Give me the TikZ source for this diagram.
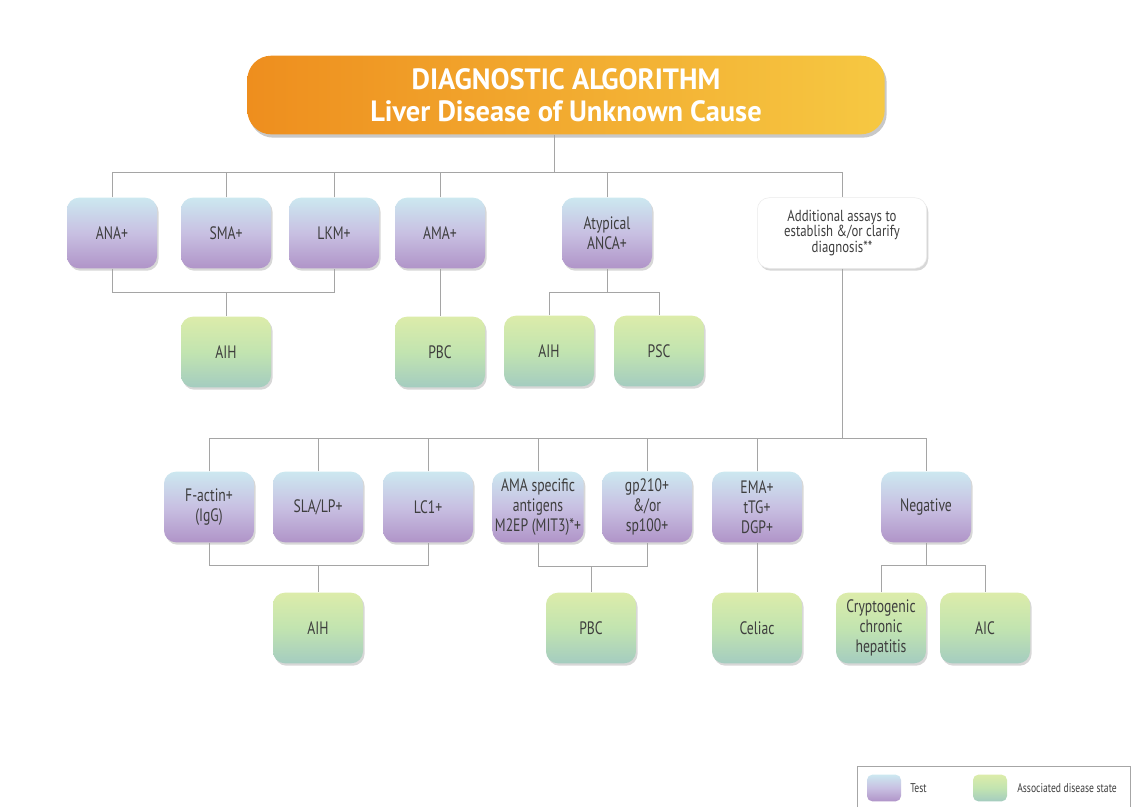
\documentclass[tikz,border=0pt]{standalone}
\usepackage{fontspec}
\setmainfont{PT Sans}[FakeStretch=0.76]
\newfontfamily\titlefont{PT Sans}[FakeStretch=0.97]
\newfontfamily\infofont{PT Sans}[FakeStretch=0.8]
\usetikzlibrary{shadows}
\definecolor{txt}{RGB}{62,62,62}
\definecolor{tTop}{RGB}{204,232,240}
\definecolor{tMid}{RGB}{200,192,226}
\definecolor{tBot}{RGB}{176,148,200}
\definecolor{dTop}{RGB}{220,236,170}
\definecolor{dMid}{RGB}{194,228,176}
\definecolor{dBot}{RGB}{164,204,192}
\definecolor{conn}{RGB}{165,165,165}
\definecolor{oLeft}{RGB}{238,142,30}
\definecolor{oRight}{RGB}{246,200,66}
\tikzset{
  softshadow/.style={drop shadow={shadow xshift=1.2pt,shadow yshift=-1.8pt,opacity=0.22,fill=black!70}},
  basebox/.style={rounded corners=9pt,minimum width=67.5pt,minimum height=53pt,inner sep=2pt,
    align=center,text=txt,font=\fontsize{13.5}{15}\selectfont,softshadow},
  testbox/.style={basebox,top color=tTop,bottom color=tBot,middle color=tMid},
  dzbox/.style={basebox,top color=dTop,bottom color=dBot,middle color=dMid},
  infobox/.style={basebox,fill=white,draw=black!8,minimum width=127pt,font=\infofont\fontsize{12}{11.5}\selectfont},
  titlebox/.style={rounded corners=18pt,minimum width=478pt,minimum height=59pt,align=center,
    text=white,font=\titlefont\bfseries\fontsize{22}{24}\selectfont,
    left color=oLeft,right color=oRight,drop shadow={shadow xshift=1.5pt,shadow yshift=-2.5pt,opacity=0.3,fill=black!70}},
  link/.style={draw=conn,line width=0.5pt},
  swatchT/.style={rounded corners=4pt,minimum width=25.5pt,minimum height=20pt,inner sep=0pt,top color=tTop,bottom color=tBot,middle color=tMid},
  swatchD/.style={rounded corners=4pt,minimum width=25.5pt,minimum height=20pt,inner sep=0pt,top color=dTop,bottom color=dBot,middle color=dMid},
  legtext/.style={anchor=west,inner sep=0pt,text=txt,font=\fontsize{9.5}{11}\selectfont}
}
\begin{document}
\begin{tikzpicture}[x=0.75pt,y=-0.75pt]
\useasboundingbox[fill=white] (0,0) rectangle (1134,807);
% title
\node[titlebox] (title) at (566,95) {DIAGNOSTIC ALGORITHM\\Liver Disease of Unknown Cause};
% row 1
\node[testbox] (ana)  at (112,233) {ANA+};
\node[testbox] (sma)  at (226,233) {SMA+};
\node[testbox] (lkm)  at (334,233) {LKM+};
\node[testbox] (ama)  at (440,233) {AMA+};
\node[testbox] (anca) at (607,233) {Atypical\\ANCA+};
\node[infobox] (addl) at (842,233) {Additional assays to\\establish \&/or clarify\\diagnosis**};
% row 2
\node[dzbox] (aiha) at (226,352) {AIH};
\node[dzbox] (pbca) at (440,352) {PBC};
\node[dzbox] (aihb) at (549,351) {AIH};
\node[dzbox] (psc)  at (659,351) {PSC};
% row 3
\node[testbox] (fact) at (209,507) {F-actin+\\(IgG)};
\node[testbox] (sla)  at (318,507) {SLA/LP+};
\node[testbox] (lc)   at (428,507) {LC1+};
\node[testbox] (amas) at (538,507) {AMA specific\\antigens\\M2EP (MIT3)*+};
\node[testbox] (gp)   at (647,507) {gp210+\\\&/or\\sp100+};
\node[testbox] (ema)  at (757,507) {EMA+\\tTG+\\DGP+};
\node[testbox] (neg)  at (926,507) {Negative};
% row 4
\node[dzbox] (aihc)   at (318,628) {AIH};
\node[dzbox] (pbcb)   at (591,628) {PBC};
\node[dzbox] (celiac) at (757,628) {Celiac};
\node[dzbox] (crypto) at (881,628) {Cryptogenic\\chronic\\hepatitis};
\node[dzbox] (aic)    at (985,628) {AIC};
% bus levels
\coordinate (busA) at (554,172);
\coordinate (busB) at (0,292);
\coordinate (busC) at (0,292);
\coordinate (busD) at (842,438);
\coordinate (busE) at (0,565);
\coordinate (busF) at (0,566);
\coordinate (busG) at (0,565);
% title to row 1
\draw[link] (busA |- title.south) -- (busA);
\draw[link] (ana.north) -- (ana.north |- busA) -- (addl.north |- busA) -- (addl.north);
\foreach \n in {sma,lkm,ama,anca} \draw[link] (\n.north) -- (\n.north |- busA);
% row 1 to row 2
\draw[link] (ana.south) -- (ana.south |- busB) -- (lkm.south |- busB) -- (lkm.south);
\draw[link] (aiha.north |- busB) -- (aiha.north);
\draw[link] (ama.south) -- (pbca.north);
\draw[link] (anca.south) -- (anca.south |- busC);
\draw[link] (aihb.north) -- (aihb.north |- busC) -- (psc.north |- busC) -- (psc.north);
% additional to row 3
\draw[link] (addl.south) -- (busD);
\draw[link] (fact.north) -- (fact.north |- busD) -- (neg.north |- busD) -- (neg.north);
\foreach \n in {sla,lc,amas,gp,ema} \draw[link] (\n.north) -- (\n.north |- busD);
% row 3 to row 4
\draw[link] (fact.south) -- (fact.south |- busE) -- (lc.south |- busE) -- (lc.south);
\draw[link] (aihc.north |- busE) -- (aihc.north);
\draw[link] (amas.south) -- (amas.south |- busF) -- (gp.south |- busF) -- (gp.south);
\draw[link] (pbcb.north |- busF) -- (pbcb.north);
\draw[link] (ema.south) -- (celiac.north);
\draw[link] (neg.south) -- (neg.south |- busG);
\draw[link] (crypto.north) -- (crypto.north |- busG) -- (aic.north |- busG) -- (aic.north);
% legend
\coordinate (legTL) at (857,766);
\coordinate (legTR) at (1130,766);
\draw[draw=black!35,line width=0.5pt] (857,807) -- (legTL) -- (legTR) -- (1130,807);
\node[swatchT] (swT) at (884,788) {};
\node[legtext] (lT) at (910,788) {Test};
\node[swatchD] (swD) at (990,788) {};
\node[legtext] (lD) at (1017,788) {Associated disease state};
\end{tikzpicture}
\end{document}
